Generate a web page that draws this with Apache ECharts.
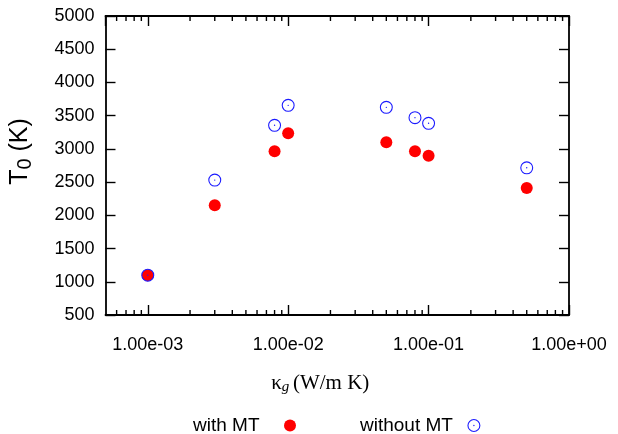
<!DOCTYPE html>
<html>
<head>
<meta charset="utf-8">
<script src="https://cdn.jsdelivr.net/npm/echarts@6/dist/echarts.min.js"></script>
<style>
  html, body { margin: 0; padding: 0; background: #fff; }
  #chart { width: 618px; height: 434px; }
</style>
</head>
<body>
<div id="chart"></div>
<script>
// Gas thermal conductivity (W/m K)
const kappa = [1e-3, 3e-3, 8e-3, 1e-2, 5e-2, 8e-2, 1e-1, 5e-1];
// Temperature T0 (K)
const withMT = [1100, 2150, 2965, 3235, 3100, 2965, 2895, 2410];
const withoutMT = [1100, 2530, 3355, 3655, 3625, 3470, 3385, 2715];

const seriesNames = ['with MT', 'without MT'];

// Axis ranges
const X_MIN = 5e-4, X_MAX = 1;
const Y_MIN = 500, Y_MAX = 5000, Y_STEP = 500;

// Minor tick positions on the log axis
const xMinorTicks = [
  6e-4, 7e-4, 8e-4, 9e-4,
  2e-3, 3e-3, 4e-3, 5e-3, 6e-3, 7e-3, 8e-3, 9e-3,
  2e-2, 3e-2, 4e-2, 5e-2, 6e-2, 7e-2, 8e-2, 9e-2,
  2e-1, 3e-1, 4e-1, 5e-1, 6e-1, 7e-1, 8e-1, 9e-1
];

const SANS = 'Liberation Sans';
const SERIF = 'Liberation Serif';

// ring with a centre dot
const RING_DOT = 'path://M12 0A12 12 0 1 1 12 24A12 12 0 1 1 12 0Z' +
  'M12 2A10 10 0 1 0 12 22A10 10 0 1 0 12 2Z' +
  'M12 10.7A1.3 1.3 0 1 1 12 13.3A1.3 1.3 0 1 1 12 10.7Z';

function sci(v) {
  const e = Math.round(Math.log10(v));
  const m = v / Math.pow(10, e);
  return m.toFixed(2) + 'e' + (e < 0 ? '-' : '+') + String(Math.abs(e)).padStart(2, '0');
}

const axisLine = { show: true, lineStyle: { color: '#000', width: 1.8 } };
const tickStyle = { color: '#000', width: 1.4 };

const chart = echarts.init(document.getElementById('chart'), null, { renderer: 'canvas' });

chart.setOption({
  backgroundColor: '#fff',
  animation: false,
  grid: { left: 105, right: 49, top: 16, bottom: 119 },
  xAxis: [
    {
      type: 'log', logBase: 10, min: X_MIN, max: X_MAX,
      position: 'bottom',
      axisLine: axisLine,
      axisTick: { show: true, inside: true, length: 10, lineStyle: tickStyle },
      splitLine: { show: false },
      axisLabel: {
        margin: 21, showMinLabel: false, color: '#000',
        fontFamily: SANS, fontSize: 18,
        formatter: v => sci(v)
      },
      name: '{k|κ}{g|g }{t|(W/m K)}',
      nameLocation: 'middle', nameGap: 57,
      nameTextStyle: {
        padding: [0, 34, 0, 0],
        rich: {
          k: { fontFamily: SERIF, fontSize: 21, color: '#000' },
          g: { fontFamily: SERIF, fontSize: 15, fontStyle: 'italic', color: '#000', padding: [8, 0, 0, 0] },
          t: { fontFamily: SERIF, fontSize: 21, color: '#000' }
        }
      }
    },
    {
      type: 'log', logBase: 10, min: X_MIN, max: X_MAX,
      position: 'top',
      axisLine: axisLine,
      axisTick: { show: true, inside: true, length: 10, lineStyle: tickStyle },
      splitLine: { show: false },
      axisLabel: { show: false }
    }
  ],
  yAxis: [
    {
      type: 'value', min: Y_MIN, max: Y_MAX, interval: Y_STEP,
      position: 'left',
      axisLine: axisLine,
      axisTick: { show: true, inside: true, length: 10, lineStyle: tickStyle },
      splitLine: { show: false },
      axisLabel: {
        margin: 11, color: '#000', fontFamily: SANS, fontSize: 18,
        formatter: v => String(v)
      },
      name: 'T{s|0} (K)',
      nameLocation: 'middle', nameGap: 70,
      nameTextStyle: {
        fontFamily: SANS, fontSize: 25, color: '#000',
        padding: [0, 0, 0, 28],
        rich: {
          s: { fontFamily: SANS, fontSize: 20, color: '#000', padding: [10, 0, 0, 0] }
        }
      }
    },
    {
      type: 'value', min: Y_MIN, max: Y_MAX, interval: Y_STEP,
      position: 'right',
      axisLine: axisLine,
      axisTick: { show: true, inside: true, length: 10, lineStyle: tickStyle },
      splitLine: { show: false },
      axisLabel: { show: false }
    }
  ],
  legend: [
    {
      data: ['with MT'], left: 188, top: 411, align: 'right',
      itemWidth: 51, itemHeight: 12,
      textStyle: { fontFamily: SANS, fontSize: 19, color: '#000' }
    },
    {
      data: ['without MT'], left: 355, top: 411, align: 'right',
      itemWidth: 32, itemHeight: 13,
      textStyle: { fontFamily: SANS, fontSize: 19, color: '#000' }
    }
  ],
  series: [
    {
      type: 'custom', silent: true, z: 1,
      xAxisIndex: 0, yAxisIndex: 0,
      data: xMinorTicks.map(v => [v, Y_MIN]),
      encode: { x: 0, y: 1 },
      renderItem: function (params, api) {
        const v = api.value(0);
        const b = api.coord([v, Y_MIN]);
        const t = api.coord([v, Y_MAX]);
        const st = { stroke: '#000', lineWidth: 1.4 };
        return {
          type: 'group',
          children: [
            { type: 'line', shape: { x1: b[0], y1: b[1], x2: b[0], y2: b[1] - 5 }, style: st },
            { type: 'line', shape: { x1: t[0], y1: t[1], x2: t[0], y2: t[1] + 5 }, style: st }
          ]
        };
      }
    },
    {
      name: seriesNames[0], type: 'scatter',
      data: kappa.map((k, i) => [k, withMT[i]]),
      symbol: 'circle', symbolSize: 12,
      itemStyle: { color: '#ff0000', opacity: 1 },
      z: 3
    },
    {
      name: seriesNames[1], type: 'scatter',
      data: kappa.map((k, i) => [k, withoutMT[i]]),
      symbol: RING_DOT, symbolSize: 13,
      itemStyle: { color: '#1a1aff', opacity: 1 },
      z: 4
    }
  ]
});
</script>
</body>
</html>
